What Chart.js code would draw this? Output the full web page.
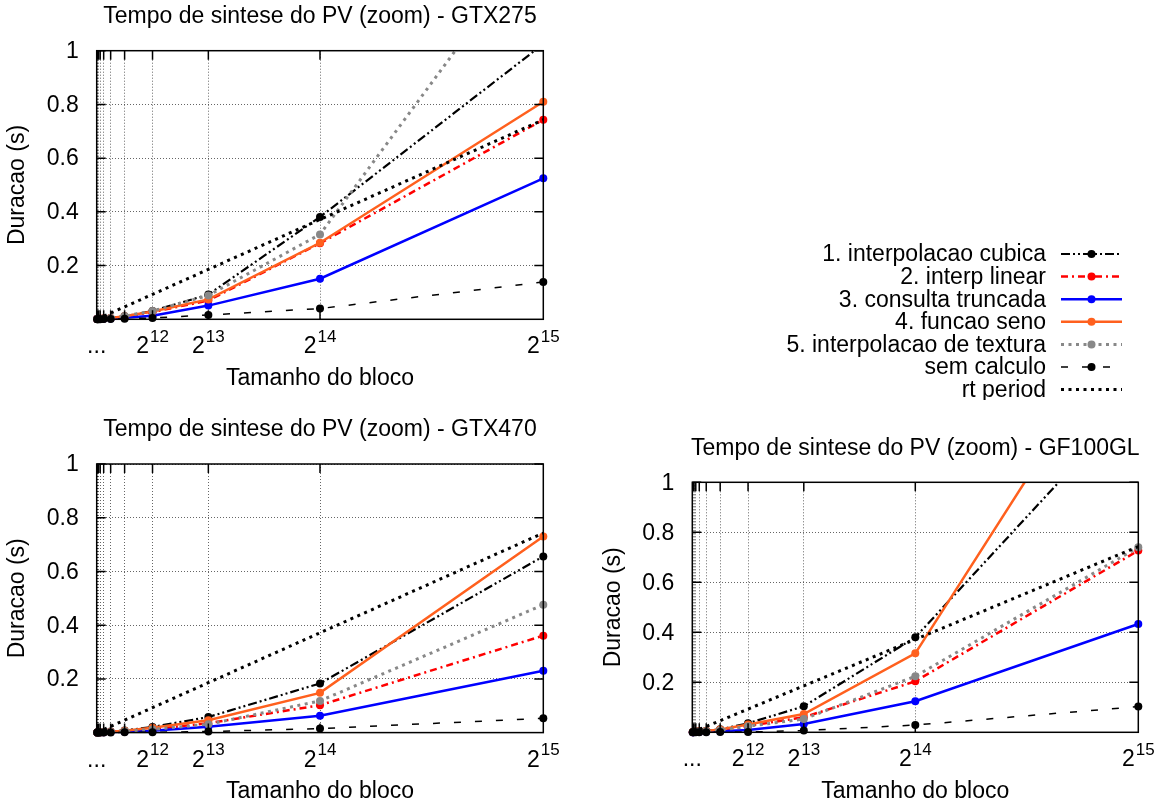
<!DOCTYPE html>
<html>
<head>
<meta charset="utf-8">
<script src="https://cdn.jsdelivr.net/npm/chart.js@4.4.0/dist/chart.umd.min.js"></script>
<style>
  html, body { margin: 0; padding: 0; background: #fff; }
  #wrap { position: relative; width: 1157px; height: 802px; overflow: hidden; }
  canvas { position: absolute; }
  #c1 { left: 0; top: 0; }
  #c2 { left: 0; top: 400px; }
  #c3 { left: 580px; top: 400px; }
</style>
</head>
<body>
<div id="wrap">
  <canvas id="c1" width="1157" height="400"></canvas>
  <canvas id="c2" width="580" height="402"></canvas>
  <canvas id="c3" width="577" height="402"></canvas>
</div>
<script>
// block sizes (x) and grid positions
const blockSizes = [32, 64, 128, 256, 512, 1024, 2048, 4096, 8192, 16384, 32768];
const xGrid = [32, 64, 128, 256, 512, 1024, 2048, 4096, 8192, 16384];
const xLabelValues = [4096, 8192, 16384, 32768];
const xLabelExps = ["12", "13", "14", "15"];
const yTicks = [0.2, 0.4, 0.6, 0.8, 1];
const yTickLabels = ["0.2", "0.4", "0.6", "0.8", "1"];

const seriesNames = [
    "1. interpolacao cubica",
    "2. interp linear",
    "3. consulta truncada",
    "4. funcao seno",
    "5. interpolacao de textura",
    "sem calculo",
    "rt period",
];

// real time period (same for every card)
const rtPeriod = [0.0007, 0.0015, 0.0029, 0.0058, 0.0116, 0.0232, 0.0464, 0.0929, 0.1858, 0.3715, 0.743];

// GTX275
const gtx275Cubic = [0.001, 0.001, 0.001, 0.002, 0.003, 0.005, 0.011, 0.031, 0.092, 0.381, 1.025];
const gtx275Linear = [0.001, 0.001, 0.001, 0.002, 0.003, 0.004, 0.010, 0.027, 0.070, 0.283, 0.743];
const gtx275Trunc = [0.001, 0.001, 0.001, 0.001, 0.002, 0.003, 0.006, 0.013, 0.051, 0.151, 0.525];
const gtx275Seno = [0.001, 0.001, 0.001, 0.002, 0.003, 0.005, 0.011, 0.029, 0.074, 0.285, 0.810];
const gtx275Tex = [0.001, 0.001, 0.001, 0.002, 0.003, 0.005, 0.012, 0.031, 0.089, 0.316, 1.445];
const gtx275Sem = [0, 0, 0, 0, 0.001, 0.001, 0.002, 0.005, 0.016, 0.040, 0.139];

// GTX470
const gtx470Cubic = [0, 0, 0.001, 0.001, 0.002, 0.004, 0.008, 0.021, 0.058, 0.183, 0.656];
const gtx470Linear = [0, 0, 0, 0.001, 0.001, 0.002, 0.005, 0.012, 0.035, 0.102, 0.361];
const gtx470Trunc = [0, 0, 0, 0.001, 0.001, 0.002, 0.003, 0.007, 0.022, 0.063, 0.230];
const gtx470Seno = [0, 0, 0.001, 0.001, 0.002, 0.003, 0.007, 0.018, 0.046, 0.148, 0.730];
const gtx470Tex = [0, 0, 0, 0.001, 0.001, 0.002, 0.005, 0.012, 0.031, 0.118, 0.476];
const gtx470Sem = [0, 0, 0, 0, 0, 0, 0.001, 0.001, 0.004, 0.015, 0.053];

// GF100GL
const gf100Cubic = [0.001, 0.001, 0.002, 0.003, 0.004, 0.006, 0.012, 0.036, 0.104, 0.380, 1.344];
const gf100Linear = [0, 0.001, 0.001, 0.002, 0.003, 0.004, 0.009, 0.026, 0.060, 0.204, 0.727];
const gf100Trunc = [0, 0, 0.001, 0.001, 0.001, 0.002, 0.004, 0.009, 0.033, 0.124, 0.433];
const gf100Seno = [0.001, 0.001, 0.001, 0.002, 0.003, 0.005, 0.011, 0.031, 0.073, 0.316, 1.711];
const gf100Tex = [0, 0.001, 0.001, 0.001, 0.002, 0.004, 0.008, 0.024, 0.053, 0.224, 0.740];
const gf100Sem = [0, 0, 0, 0, 0, 0, 0.001, 0.001, 0.007, 0.029, 0.103];

const FONT = '"Liberation Sans", Arial, sans-serif';
const BIG = "23px " + FONT;
const SUP = "17px " + FONT;

// line styles, one per series
const styles = [
    { color: "#000000", width: 2.2, dash: [9, 3, 2, 3, 2, 3], point: "#000000" },
    { color: "#ff0000", width: 2.5, dash: [7, 4, 2, 4], point: "#ff0000" },
    { color: "#0000ff", width: 2.5, dash: [], point: "#0000ff" },
    { color: "#ff601e", width: 2.5, dash: [], point: "#ff601e" },
    { color: "#888888", width: 3, dash: [3, 4.5], point: "#888888" },
    { color: "#000000", width: 1.5, dash: [7, 14], point: "#000000" },
    { color: "#000000", width: 3, dash: [3, 4.5], point: null },
];

function makeDatasets(list) {
    return list.map((vals, i) => {
        const s = styles[i];
        return {
            label: seriesNames[i],
            data: blockSizes.map((b, j) => ({ x: b, y: vals[j] })),
            borderColor: s.color,
            borderWidth: s.width,
            borderDash: s.dash,
            borderCapStyle: "butt",
            backgroundColor: s.point || s.color,
            pointBackgroundColor: s.point || s.color,
            pointBorderWidth: 0,
            pointRadius: s.point ? 4 : 0,
            tension: 0,
            fill: false,
            order: list.length - i,
            clip: { left: 10, right: 10, bottom: 10, top: 0 },
        };
    });
}

// frame, inner ticks, labels and titles in gnuplot style
const gnuplotLook = {
    id: "gnuplotLook",
    afterDraw(chart, args, opts) {
        const { ctx, chartArea: a, scales } = chart;
        const x = scales.x, y = scales.y;
        ctx.save();
        ctx.strokeStyle = "#000";
        ctx.lineWidth = 1.5;
        ctx.setLineDash([]);
        ctx.strokeRect(a.left, a.top, a.width, a.height);

        // inward tick marks
        ctx.beginPath();
        yTicks.forEach((v) => {
            const py = y.getPixelForValue(v);
            ctx.moveTo(a.left, py); ctx.lineTo(a.left + 9, py);
            ctx.moveTo(a.right, py); ctx.lineTo(a.right - 9, py);
        });
        xGrid.forEach((v) => {
            const px = x.getPixelForValue(v);
            ctx.moveTo(px, a.bottom); ctx.lineTo(px, a.bottom - 9);
            ctx.moveTo(px, a.top); ctx.lineTo(px, a.top + 9);
        });
        ctx.stroke();

        ctx.fillStyle = "#000";
        // y tick labels
        ctx.font = BIG;
        ctx.textAlign = "right";
        ctx.textBaseline = "middle";
        yTicks.forEach((v, i) => {
            ctx.fillText(yTickLabels[i], a.left - 18, y.getPixelForValue(v) + 1);
        });

        // x tick labels 2^n
        ctx.textBaseline = "alphabetic";
        ctx.textAlign = "left";
        xLabelValues.forEach((v, i) => {
            const px = x.getPixelForValue(v);
            ctx.font = BIG;
            const wb = ctx.measureText("2").width;
            ctx.font = SUP;
            const we = ctx.measureText(xLabelExps[i]).width;
            const start = px - (wb + we + 1) / 2;
            ctx.font = BIG;
            ctx.fillText("2", start, a.bottom + 34);
            ctx.font = SUP;
            ctx.fillText(xLabelExps[i], start + wb + 1, a.bottom + 22.5);
        });
        ctx.font = BIG;
        ctx.textAlign = "center";
        ctx.fillText("...", x.getPixelForValue(0), a.bottom + 34);

        // titles
        const cx = (a.left + a.right) / 2;
        ctx.textBaseline = "middle";
        ctx.fillText(opts.title, cx, a.top - 34);
        ctx.fillText("Tamanho do bloco", cx, a.bottom + 59);
        ctx.save();
        ctx.translate(a.left - 79, (a.top + a.bottom) / 2);
        ctx.rotate(-Math.PI / 2);
        ctx.fillText("Duracao (s)", 0, 0);
        ctx.restore();

        // key
        if (opts.key) {
            const k = opts.key;
            chart.data.datasets.forEach((ds, i) => {
                const ry = k.top + i * k.step;
                ctx.font = BIG;
                ctx.textAlign = "right";
                ctx.textBaseline = "middle";
                ctx.fillStyle = "#000";
                ctx.fillText(ds.label, k.textRight, ry + 1);
                ctx.beginPath();
                ctx.strokeStyle = ds.borderColor;
                ctx.lineWidth = ds.borderWidth;
                ctx.lineCap = "butt";
                ctx.setLineDash(ds.borderDash);
                ctx.moveTo(k.lineLeft, ry);
                ctx.lineTo(k.lineRight, ry);
                ctx.stroke();
                ctx.setLineDash([]);
                if (ds.pointRadius > 0) {
                    ctx.beginPath();
                    ctx.fillStyle = ds.pointBackgroundColor;
                    ctx.arc((k.lineLeft + k.lineRight) / 2, ry, ds.pointRadius, 0, Math.PI * 2);
                    ctx.fill();
                }
            });
        }
        ctx.restore();
    },
};

function makeChart(id, title, list, padding, key) {
    return new Chart(document.getElementById(id), {
        type: "line",
        data: { datasets: makeDatasets(list) },
        options: {
            responsive: false,
            animation: false,
            events: [],
            layout: { padding: padding },
            plugins: {
                legend: { display: false },
                tooltip: { enabled: false },
                gnuplotLook: { title: title, key: key },
            },
            scales: {
                x: {
                    type: "linear",
                    min: 0,
                    max: 32768,
                    afterBuildTicks: (s) => {
                        s.ticks = xGrid.map((v) => ({ value: v }));
                    },
                    ticks: { display: false },
                    grid: { color: "rgba(0,0,0,0.6)", lineWidth: 1, drawTicks: false },
                    border: { display: false, dash: [1, 2] },
                },
                y: {
                    type: "linear",
                    min: 0,
                    max: 1,
                    ticks: { display: false, stepSize: 0.2 },
                    grid: { color: "rgba(0,0,0,0.6)", lineWidth: 1, drawTicks: false },
                    border: { display: false, dash: [1, 2] },
                },
            },
        },
        plugins: [gnuplotLook],
    });
}

makeChart("c1", "Tempo de sintese do PV (zoom) - GTX275",
    [gtx275Cubic, gtx275Linear, gtx275Trunc, gtx275Seno, gtx275Tex, gtx275Sem, rtPeriod],
    { left: 96.7, top: 50.7, right: 613.7, bottom: 80.7 },
    { top: 254, step: 22.6, textRight: 1046, lineLeft: 1061, lineRight: 1122 });

makeChart("c2", "Tempo de sintese do PV (zoom) - GTX470",
    [gtx470Cubic, gtx470Linear, gtx470Trunc, gtx470Seno, gtx470Tex, gtx470Sem, rtPeriod],
    { left: 96.7, top: 64, right: 36.7, bottom: 69.4 }, null);

makeChart("c3", "Tempo de sintese do PV (zoom) - GF100GL",
    [gf100Cubic, gf100Linear, gf100Trunc, gf100Seno, gf100Tex, gf100Sem, rtPeriod],
    { left: 112.3, top: 82.3, right: 18.7, bottom: 69.7 }, null);
</script>
</body>
</html>
